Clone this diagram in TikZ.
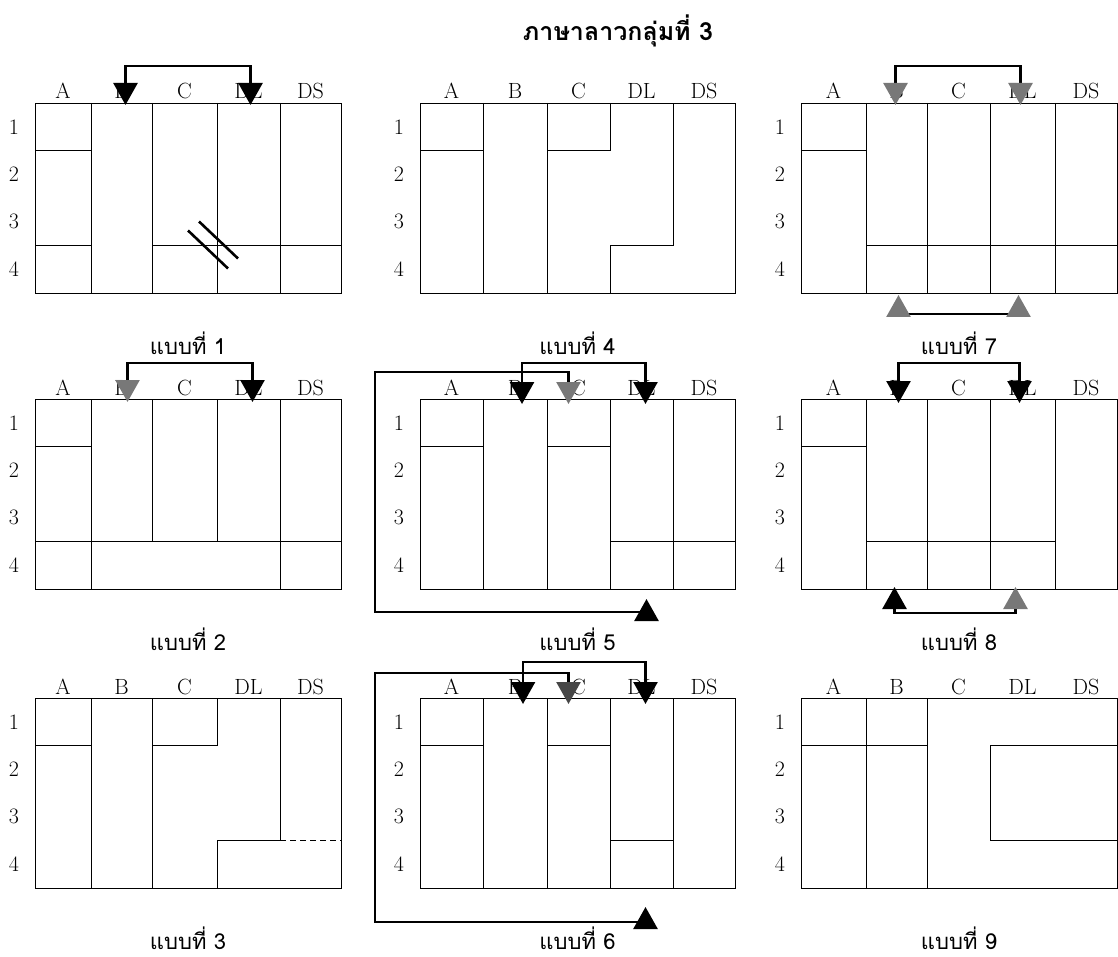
\documentclass[tikz,border=0pt]{standalone}
\usepackage{fontspec}
\newfontfamily\thaifont[Script=Thai]{Loma}
\usetikzlibrary{arrows.meta,calc}
\definecolor{tipgrey}{RGB}{120,120,120}
\definecolor{tipdark}{RGB}{70,70,70}

\tikzset{
  tipk/.tip={Triangle[length=22pt,width=24pt]},
  tipg/.tip={Triangle[length=22pt,width=24pt,color=tipgrey]},
  tipd/.tip={Triangle[length=22pt,width=24pt,color=tipdark]},
}

% one tone box: name, column edges, top, number
\newcommand{\tonepanel}[4]{%
  \foreach \cx [count=\ci from 0] in {#2}{
    \foreach \ry [count=\rj from 0] in {0,47.5,95,142.5,190}
      \coordinate (#1-\ci-\rj) at (\cx,#3+\ry);
  }
  \draw[cell] (#1-0-0) rectangle (#1-5-4);
  \foreach \lab [count=\kc from 1] in {A,B,C,DL,DS}{
    \pgfmathtruncatemacro{\kp}{\kc-1}
    \coordinate (#1-t\kc) at ($(#1-\kp-0)!.5!(#1-\kc-0)$);
    \coordinate (#1-b\kc) at ($(#1-\kp-4)!.5!(#1-\kc-4)$);
    \node[colhead] (#1-h\kc) at ([yshift=4pt]#1-t\kc) {\lab};
  }
  \foreach \rw [count=\rr from 1] in {0,1,2,3}
    \node[rowlab] (#1-r\rr) at ($(#1-0-\rw)!.5!(#1-0-\rr)+(-21,0)$) {\rr};
  \node[capt] (#1-cap) at ($(#1-0-4)!.5!(#1-5-4)+(0,61)$) {แบบที่ #4};
}

\begin{document}
\begin{tikzpicture}[x=1pt, y=-1pt,
    cell/.style={draw, line width=0.9pt},
    colhead/.style={anchor=base, inner sep=0pt, font=\fontsize{22}{26}\selectfont},
    rowlab/.style={inner sep=0pt, font=\fontsize{22}{26}\selectfont},
    capt/.style={anchor=base, inner sep=0pt, text height=15pt, text depth=3pt,
        font=\thaifont\fontsize{22}{26}\selectfont},
    headline/.style={inner sep=0pt, font=\thaifont\bfseries\fontsize{25}{30}\selectfont},
    link/.style={line width=2.6pt},
    slash/.style={line width=2.6pt}
]
\useasboundingbox (0,0) rectangle (1118,957);
\node[headline] (title) at (618,31) {ภาษาลาวกลุ่มที่ 3};

\tonepanel{p1}{35,91,152,217,280,341}{103}{1}
\tonepanel{p2}{35,91,152,217,280,341}{399}{2}
\tonepanel{p3}{35,91,152,217,280,341}{698}{3}
\tonepanel{p4}{420,483,547,610,673,735}{103}{4}
\tonepanel{p5}{420,483,547,610,673,735}{399}{5}
\tonepanel{p6}{420,483,547,610,673,735}{698}{6}
\tonepanel{p7}{801,866,927,990,1055,1117}{103}{7}
\tonepanel{p8}{801,866,927,990,1055,1117}{399}{8}
\tonepanel{p9}{801,866,927,990,1055,1117}{698}{9}

% panel 1
\draw[cell] (p1-0-1) -- (p1-1-1) (p1-0-3) -- (p1-1-3) (p1-2-3) -- (p1-5-3);
\foreach \c in {1,...,4} \draw[cell] (p1-\c-0) -- (p1-\c-4);
\draw[slash] ($(p1-3-3)+(-29,-15)$) -- ++(40,38) ($(p1-3-3)+(-18,-24)$) -- ++(39,37);
\draw[link, tipk-tipk] ([shift={(4,2)}]p1-t2) -- ++(0,-39) -| ([shift={(2,2)}]p1-t4);

% panel 2
\draw[cell] (p2-0-1) -- (p2-1-1) (p2-0-3) -- (p2-5-3) (p2-1-0) -- (p2-1-4)
  (p2-4-0) -- (p2-4-4) (p2-2-0) -- (p2-2-3) (p2-3-0) -- (p2-3-3);
\draw[link, tipg-tipk] ([shift={(6,3)}]p2-t2) -- ++(0,-39) -| ([shift={(4,3)}]p2-t4);

% panel 3
\draw[cell] (p3-0-1) -- (p3-1-1) (p3-1-0) -- (p3-1-4) (p3-2-0) -- (p3-2-4)
  (p3-3-0) -- (p3-3-1) -- (p3-2-1) (p3-3-4) -- (p3-3-3) -- (p3-4-3) -- (p3-4-0);
\draw[cell, dash pattern=on 6pt off 4pt] (p3-4-3) -- (p3-5-3);

% panel 4
\draw[cell] (p4-0-1) -- (p4-1-1) (p4-1-0) -- (p4-1-4) (p4-2-0) -- (p4-2-4)
  (p4-3-0) -- (p4-3-1) -- (p4-2-1) (p4-3-4) -- (p4-3-3) -- (p4-4-3) -- (p4-4-0);

% panel 5
\draw[cell] (p5-0-1) -- (p5-1-1) (p5-2-1) -- (p5-3-1) (p5-3-3) -- (p5-5-3);
\foreach \c in {1,...,4} \draw[cell] (p5-\c-0) -- (p5-\c-4);
\draw[link, tipg-tipk] ([shift={(-10,5)}]p5-t3) |- ([shift={(-45,-27)}]p5-0-0)
  |- ([shift={(5,23)}]p5-b4) -- ([shift={(5,10)}]p5-b4);
\draw[link, tipk-tipk] ([shift={(7,5)}]p5-t2) -- ++(0,-41) -| ([shift={(4,5)}]p5-t4);

% panel 6
\draw[cell] (p6-0-1) -- (p6-1-1) (p6-2-1) -- (p6-3-1) (p6-3-3) -- (p6-4-3);
\foreach \c in {1,...,4} \draw[cell] (p6-\c-0) -- (p6-\c-4);
\draw[link, tipd-tipk] ([shift={(-10,6)}]p6-t3) |- ([shift={(-45,-25)}]p6-0-0)
  |- ([shift={(4,34)}]p6-b4) -- ([shift={(4,19)}]p6-b4);
\draw[link, tipk-tipk] ([shift={(8,6)}]p6-t2) -- ++(0,-42) -| ([shift={(4,6)}]p6-t4);

% panel 7
\draw[cell] (p7-0-1) -- (p7-1-1) (p7-1-3) -- (p7-5-3);
\foreach \c in {1,...,4} \draw[cell] (p7-\c-0) -- (p7-\c-4);
\draw[link, tipg-tipg] ([shift={(-1,2)}]p7-t2) -- ++(0,-39) -| ([shift={(-2,2)}]p7-t4);
\draw[link, tipg-tipg] ([shift={(2,2)}]p7-b2) -- ++(0,19) -| ([shift={(-4,2)}]p7-b4);

% panel 8
\draw[cell] (p8-0-1) -- (p8-1-1) (p8-1-3) -- (p8-4-3);
\foreach \c in {1,...,4} \draw[cell] (p8-\c-0) -- (p8-\c-4);
\draw[link, tipk-tipk] ([shift={(2,4)}]p8-t2) -- ++(0,-40) -| ([shift={(-3,4)}]p8-t4);
\draw[link, tipk-tipg] ([shift={(-2,-2)}]p8-b2) -- ++(0,26) -| ([shift={(-7,-2)}]p8-b4);

% panel 9
\draw[cell] (p9-0-1) -- (p9-2-1) (p9-1-0) -- (p9-1-4) (p9-2-0) -- (p9-2-4)
  (p9-5-1) -- (p9-3-1) -- (p9-3-3) -- (p9-5-3);
\end{tikzpicture}
\end{document}
